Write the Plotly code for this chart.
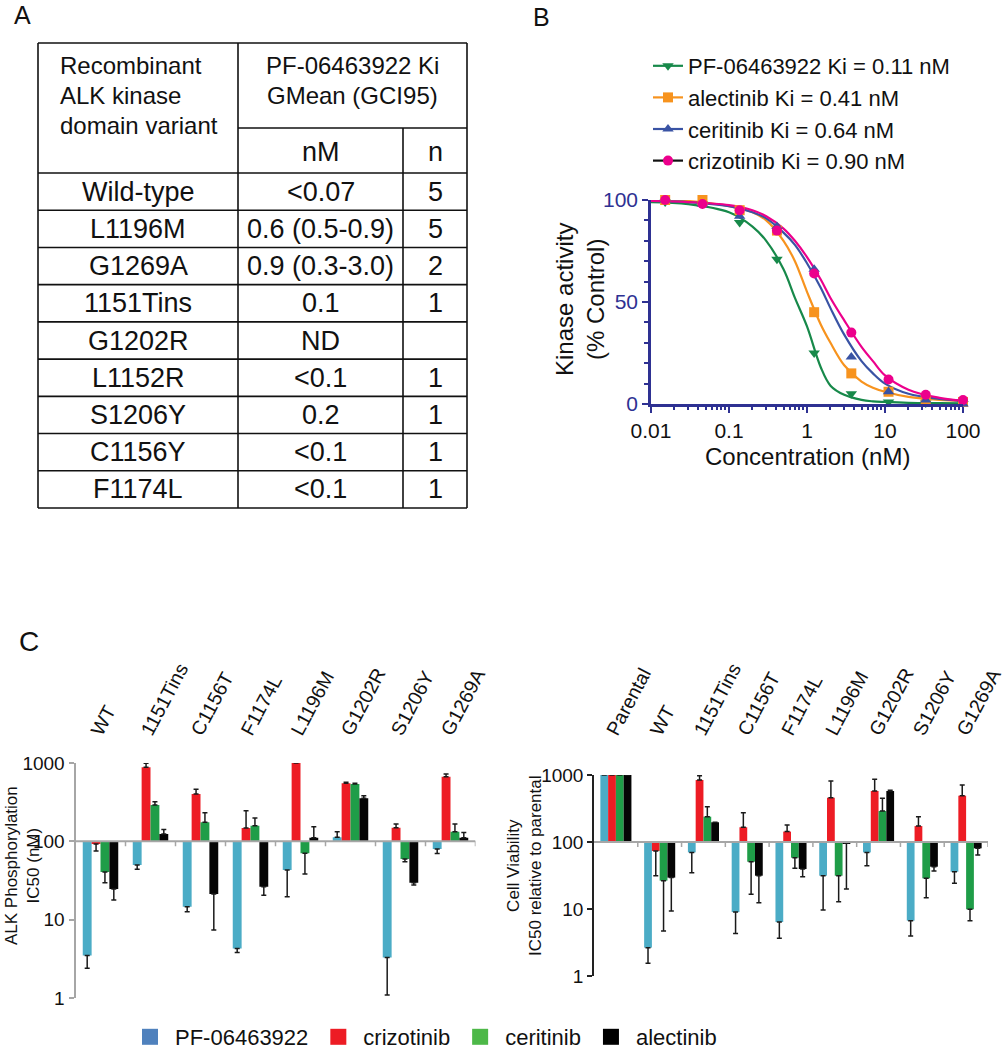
import math
import plotly.graph_objects as go

W, H = 1006, 1050
FONT = "Arial, Liberation Sans, Helvetica, sans-serif"


def px(x):
    return x / W


def py(y):
    return 1 - y / H


# ---------------- Panel A: table data ----------------
table_header_left = ["Recombinant", "ALK kinase", "domain variant"]
table_header_right = ["PF-06463922 Ki", "GMean (GCI95)"]
table_subheaders = ["nM", "n"]
variants = ["Wild-type", "L1196M", "G1269A", "1151Tins", "G1202R",
            "L1152R", "S1206Y", "C1156Y", "F1174L"]
ki_nM = ["<0.07", "0.6 (0.5-0.9)", "0.9 (0.3-3.0)", "0.1", "ND",
         "<0.1", "0.2", "<0.1", "<0.1"]
n_values = ["5", "5", "2", "1", "", "1", "1", "1", "1"]

# ---------------- Panel B: kinase activity ----------------
drug_names_B = ["PF-06463922 Ki = 0.11 nM", "alectinib Ki = 0.41 nM",
                "ceritinib Ki = 0.64 nM", "crizotinib Ki = 0.90 nM"]
conc = [0.0152, 0.0457, 0.137, 0.412, 1.235, 3.70, 11.1, 33.3, 100]
act_pf = [99, 98, 89, 71, 25, 5, 1, 0.5, 0.3]
act_alec = [100, 100, 95, 85, 45, 15, 6, 2, 1]
act_cer = [100, 98, 92, 87, 66, 23, 6, 2, 0]
act_criz = [100, 98, 95, 85, 64, 35, 12, 4.5, 2]

fit_conc = [0.01, 0.03, 0.1, 0.2, 0.3, 0.5, 0.7, 1, 1.5, 2, 3, 5, 7, 10, 20, 50, 100]
fit_pf = [99, 98, 94, 87, 80, 66, 52, 38, 18, 9, 4.5, 2, 1.3, 1, 0.6, 0.4, 0.3]
fit_alec = [100, 99.5, 97, 94, 90, 80, 70, 55, 39, 30, 19, 11, 8, 6, 3.5, 2, 1.5]
fit_cer = [99.5, 99, 97, 94, 91, 84, 78, 69, 57, 47, 34, 21, 15, 10, 5, 2.5, 1.5]
fit_criz = [99.5, 99, 97.5, 95, 92, 86, 80, 72, 61, 52, 41, 28, 21, 14, 7, 3, 1.5]

# ---------------- Panel C: bar data (value, whisker tip) ----------------
drugs_C = ["PF-06463922", "crizotinib", "ceritinib", "alectinib"]

phos_cats = ["WT", "1151Tins", "C1156T", "F1174L", "L1196M", "G1202R", "S1206Y", "G1269A"]
phos_pf = [3.5, 50, 14.6, 4.3, 43, 113, 3.3, 80]
phos_pf_tip = [2.4, 44, 12.6, 3.8, 19.6, 133, 1.09, 70]
phos_criz = [92.5, 881, 402, 148, 1000, 551, 149, 669]
phos_criz_tip = [75, 991, 461, 246, 1000, 567, 166, 724]
phos_cer = [40.6, 291, 175, 158, 70.4, 540, 59.5, 133]
phos_cer_tip = [29.6, 321, 232, 199, 38.3, 551, 55, 166]
phos_alec = [24.6, 124, 21.3, 26.4, 111, 354, 29.6, 111]
phos_alec_tip = [17.8, 142, 7.4, 20.5, 154, 383, 27.7, 130]

viab_cats = ["Parental", "WT", "1151Tins", "C1156T", "F1174L", "L1196M",
             "G1202R", "S1206Y", "G1269A"]
viab_pf = [1000, 2.65, 70, 9.0, 6.4, 31.4, 70, 6.7, 36]
viab_pf_tip = [1000, 1.55, 34.8, 4.3, 3.65, 9.7, 44.3, 3.95, 24.2]
viab_criz = [1000, 73.4, 842, 166, 143, 458, 577, 173, 491]
viab_criz_tip = [1000, 31.4, 977, 274, 179, 813, 862, 239, 709]
viab_cer = [1000, 26.5, 239, 50.8, 58.3, 31.4, 290, 28.7, 9.9]
viab_cer_tip = [1000, 4.7, 336, 16.6, 40.5, 12.8, 449, 14.7, 6.7]
viab_alec = [1000, 29.4, 197, 31.4, 39.5, 95.5, 577, 42.8, 80.5]
viab_alec_tip = [1000, 9.3, 197, 12.4, 30.3, 19.9, 590, 36.9, 64]

BASELINE = 100

# ---------------- styles ----------------
NAVY = "#2e3192"
colors_B = ["#17894a", "#f7931e", "#3953a4", "#ec008c"]
symbols_B = ["triangle-down", "square", "triangle-up", "circle"]
legend_line_B = ["#17894a", "#f7931e", "#3953a4", "#111111"]
bar_colors = ["#4bacc6", "#ed1c24", "#1f9d48", "#050505"]
legend_colors_C = ["#4f81bd", "#ed1c24", "#4db848", "#000000"]

fig = go.Figure()

# ---- Panel B traces
act_sets = [act_pf, act_alec, act_cer, act_criz]
fit_sets = [fit_pf, fit_alec, fit_cer, fit_criz]
for i in range(4):
    fig.add_trace(go.Scatter(x=fit_conc, y=fit_sets[i], mode="lines",
                             line=dict(color=colors_B[i], width=2.2, shape="spline", smoothing=1.0),
                             showlegend=False, hoverinfo="skip", xaxis="x", yaxis="y",
                             cliponaxis=False))
for i in range(4):
    fig.add_trace(go.Scatter(x=conc, y=act_sets[i], mode="markers",
                             marker=dict(color=colors_B[i], symbol=symbols_B[i], size=10),
                             showlegend=False, xaxis="x", yaxis="y", cliponaxis=False))
for i in range(4):
    fig.add_trace(go.Scatter(x=[None], y=[None], mode="lines+markers", name=drug_names_B[i],
                             marker=dict(color=colors_B[i], symbol=symbols_B[i], size=10),
                             line=dict(color=legend_line_B[i], width=2.2),
                             legend="legend", xaxis="x", yaxis="y"))


# ---- Panel C bars
def err_arrays(vals, tips):
    plus, minus = [], []
    for v, t in zip(vals, tips):
        if t == v:
            plus.append(None)
            minus.append(None)
        elif v >= BASELINE:
            plus.append(t - v)
            minus.append(0)
        else:
            plus.append(0)
            minus.append(v - t)
    return plus, minus


def add_bars(cats, vals_list, tips_list, xa, ya):
    for k in range(4):
        vals, tips = vals_list[k], tips_list[k]
        plus, minus = err_arrays(vals, tips)
        fig.add_trace(go.Bar(
            x=cats, y=[v - BASELINE for v in vals], base=[BASELINE] * len(vals),
            marker=dict(color=bar_colors[k], line=dict(width=0)),
            error_y=dict(type="data", symmetric=False, array=plus, arrayminus=minus,
                         color="#1a1a1a", thickness=1.5, width=2.5),
            showlegend=False, xaxis=xa, yaxis=ya, name=drugs_C[k]))


add_bars(phos_cats, [phos_pf, phos_criz, phos_cer, phos_alec],
         [phos_pf_tip, phos_criz_tip, phos_cer_tip, phos_alec_tip], "x2", "y2")
add_bars(viab_cats, [viab_pf, viab_criz, viab_cer, viab_alec],
         [viab_pf_tip, viab_criz_tip, viab_cer_tip, viab_alec_tip], "x3", "y3")

for k in range(4):
    fig.add_trace(go.Scatter(x=[None], y=[None], mode="markers", name=drugs_C[k],
                             marker=dict(color=legend_colors_C[k], symbol="square", size=17),
                             legend="legend2", xaxis="x", yaxis="y"))

# ---------------- layout / axes ----------------
minor_log = [m * 10 ** e for e in range(-2, 2) for m in range(2, 10)]
xB = dict(type="log", range=[-2, 2], domain=[px(651), px(963)], anchor="y",
          showline=True, linecolor=NAVY, linewidth=2.5, mirror=False,
          ticks="outside", ticklen=6, tickwidth=2, tickcolor=NAVY,
          tickvals=[0.01, 0.1, 1, 10, 100], ticktext=["0.01", "0.1", "1", "10", "100"],
          tickfont=dict(size=21, color="#111111"), showgrid=False, zeroline=False,
          minor=dict(tickvals=minor_log, ticks="outside", ticklen=3, tickwidth=1.5,
                     tickcolor=NAVY, showgrid=False))
yB = dict(range=[0, 100], domain=[py(404), py(200)], anchor="x",
          showline=True, linecolor=NAVY, linewidth=2.5,
          ticks="outside", ticklen=6, tickwidth=2, tickcolor=NAVY,
          tickvals=[0, 50, 100], tickfont=dict(size=21, color=NAVY),
          showgrid=False, zeroline=False,
          minor=dict(dtick=10, ticks="outside", ticklen=4, tickwidth=1.5,
                     tickcolor=NAVY, showgrid=False))

cl_dom_x = [px(75.5), px(475.5)]
cl_dom_y = [py(998), py(763)]
cr_dom_x = [px(594), px(988)]
cr_dom_y = [py(976), py(775)]
cat_font = dict(size=19.5, color="#111111")
xCL = dict(type="category", categoryorder="array", categoryarray=phos_cats,
           range=[-0.5, len(phos_cats) - 0.5], domain=cl_dom_x, side="top",
           anchor="free", position=py(746), showline=False, ticks="", tickangle=-62,
           ticklabelshift=-7, tickfont=cat_font, showgrid=False, zeroline=False)
yCL = dict(type="log", range=[0, 3], domain=cl_dom_y, anchor="x2",
           showline=True, linecolor="#a6a6a6", linewidth=2, ticks="outside", ticklen=5,
           tickwidth=1.5, tickcolor="#a6a6a6", tickvals=[1, 10, 100, 1000],
           ticktext=["1", "10", "100", "1000"], tickfont=dict(size=19, color="#111111"),
           showgrid=False, zeroline=False)
xCR = dict(type="category", categoryorder="array", categoryarray=viab_cats,
           range=[-0.5, len(viab_cats) - 0.5], domain=cr_dom_x, side="top",
           anchor="free", position=py(746), showline=False, ticks="", tickangle=-62,
           ticklabelshift=-7, tickfont=cat_font, showgrid=False, zeroline=False)
yCR = dict(type="log", range=[0, 3], domain=cr_dom_y, anchor="x3",
           showline=True, linecolor="#222222", linewidth=1.5, ticks="outside", ticklen=5,
           tickwidth=1.5, tickcolor="#222222", tickvals=[1, 10, 100, 1000],
           ticktext=["1", "10", "100", "1000"], tickfont=dict(size=19, color="#111111"),
           showgrid=False, zeroline=False)

shapes = []
for xa, dom_y, ncat in [("x2", cl_dom_y, len(phos_cats)), ("x3", cr_dom_y, len(viab_cats))]:
    ybase = dom_y[0] + (math.log10(BASELINE) - 0) / 3 * (dom_y[1] - dom_y[0])
    shapes.append(dict(type="line", xref=xa, yref="paper", x0=-0.5, x1=ncat - 0.5,
                       y0=ybase, y1=ybase, line=dict(color="#a6a6a6", width=2), layer="above"))
    for b in range(ncat):
        shapes.append(dict(type="line", xref=xa, yref="paper", x0=b + 0.5, x1=b + 0.5,
                           y0=ybase, y1=ybase - 5 / H, line=dict(color="#a6a6a6", width=1.5)))

# table lines
col_x = [38, 238, 403, 467]
top_y, sub_y, head_y = 43, 128, 173
row_h = (508 - head_y) / len(variants)
row_lines = [head_y + row_h * i for i in range(len(variants) + 1)]
tl = dict(color="#111111", width=1.6)
shapes.append(dict(type="line", xref="paper", yref="paper", x0=px(col_x[0]), x1=px(col_x[3]),
                   y0=py(top_y), y1=py(top_y), line=tl))
shapes.append(dict(type="line", xref="paper", yref="paper", x0=px(col_x[1]), x1=px(col_x[3]),
                   y0=py(sub_y), y1=py(sub_y), line=tl))
for ry in row_lines:
    shapes.append(dict(type="line", xref="paper", yref="paper", x0=px(col_x[0]), x1=px(col_x[3]),
                       y0=py(ry), y1=py(ry), line=tl))
for cx, y0 in [(col_x[0], top_y), (col_x[1], top_y), (col_x[2], sub_y), (col_x[3], top_y)]:
    shapes.append(dict(type="line", xref="paper", yref="paper", x0=px(cx), x1=px(cx),
                       y0=py(y0), y1=py(row_lines[-1]), line=tl))

annotations = []


def ann(text, x, y, size, xanchor="center", color="#111111", angle=0):
    annotations.append(dict(text=text, x=px(x), y=py(y), xref="paper", yref="paper",
                            xanchor=xanchor, yanchor="middle", showarrow=False,
                            textangle=angle, font=dict(size=size, color=color, family=FONT)))


ann("A", 22, 15, 25)
ann("B", 541, 17, 25)
ann("C", 29, 641, 28)

for i, t in enumerate(table_header_left):
    ann(t, 58, 65 + 30 * i, 24, xanchor="left")
for i, t in enumerate(table_header_right):
    ann(t, 352, 65 + 30 * i, 24)
ann(table_subheaders[0], (col_x[1] + col_x[2]) / 2, 152, 27)
ann(table_subheaders[1], (col_x[2] + col_x[3]) / 2, 152, 27)
for i in range(len(variants)):
    yc = head_y + row_h * (i + 0.5)
    ann(variants[i], (col_x[0] + col_x[1]) / 2, yc, 27)
    ann(ki_nM[i], (col_x[1] + col_x[2]) / 2, yc, 27)
    ann(n_values[i], (col_x[2] + col_x[3]) / 2, yc, 27)

ann("Kinase activity<br>(% Control)", 580, 300, 24, angle=-90)
ann("Concentration (nM)", 807, 457, 24)
ann("ALK Phosphorylation<br>IC50 (nM)", 22, 866, 17, angle=-90)
ann("Cell Viability<br>IC50 relative to parental", 524, 866, 17, angle=-90)

fig.update_layout(
    width=W, height=H, autosize=False,
    margin=dict(l=0, r=0, t=0, b=0, autoexpand=False),
    paper_bgcolor="white", plot_bgcolor="white",
    font=dict(family=FONT, color="#111111"),
    barmode="group", bargap=0.29, bargroupgap=0,
    xaxis=xB, yaxis=yB, xaxis2=xCL, yaxis2=yCL, xaxis3=xCR, yaxis3=yCR,
    showlegend=True,
    legend=dict(x=px(648), y=py(45), xanchor="left", yanchor="top",
                font=dict(size=22, family=FONT), bgcolor="rgba(0,0,0,0)",
                tracegroupgap=0, itemwidth=30),
    legend2=dict(x=px(125), y=py(1016), xanchor="left", yanchor="top",
                 orientation="h", font=dict(size=22, family=FONT),
                 bgcolor="rgba(0,0,0,0)", itemwidth=40),
    shapes=shapes, annotations=annotations,
)

fig.write_html("out.html", config={"displayModeBar": False},
               post_script="document.body.style.margin='0';")
